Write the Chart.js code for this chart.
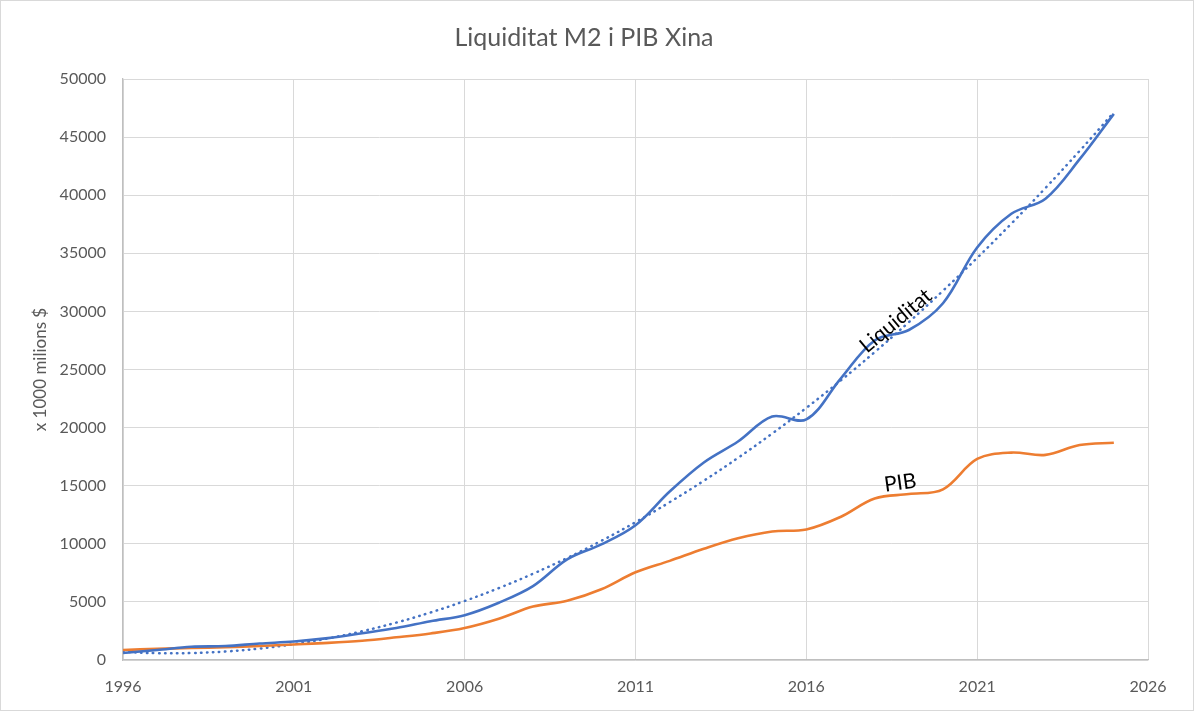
<!DOCTYPE html>
<html>
<head>
<meta charset="utf-8">
<script src="https://cdn.jsdelivr.net/npm/chart.js@4.4.1/dist/chart.umd.min.js"></script>
<style>
  html, body { margin: 0; padding: 0; background: #fff; }
  #wrap { width: 1194px; height: 711px; position: relative; }
</style>
</head>
<body>
<div id="wrap"><canvas id="m2Chart"></canvas></div>
<script>
// yearly data, x 1000 milions $
const years = [1996, 1997, 1998, 1999, 2000, 2001, 2002, 2003, 2004, 2005,
               2006, 2007, 2008, 2009, 2010, 2011, 2012, 2013, 2014, 2015,
               2016, 2017, 2018, 2019, 2020, 2021, 2022, 2023, 2024, 2025];
const liquiditat = [600, 860, 1140, 1200, 1420, 1590, 1880, 2300, 2750, 3340,
                    3860, 4930, 6360, 8660, 9950, 11600, 14500, 17000, 18800, 20950,
                    20700, 24200, 27500, 28400, 30700, 35500, 38400, 39700, 43100, 47000];
const pib = [864, 962, 1029, 1094, 1211, 1339, 1471, 1660, 1955, 2286,
             2752, 3550, 4594, 5102, 6087, 7552, 8532, 9570, 10476, 11062,
             11233, 12310, 13895, 14280, 14688, 17300, 17850, 17650, 18500, 18700];
const xTicks = [1996, 2001, 2006, 2011, 2016, 2021, 2026];
const yTicks = [0, 5000, 10000, 15000, 20000, 25000, 30000, 35000, 40000, 45000, 50000];

const blue = '#4472C4';
const orange = '#ED7D31';
const grey = '#595959';

// polynomial (order 2) trendline of liquiditat, least squares like Excel
function quadFit(xs, ys) {
    const n = xs.length;
    let s = [0, 0, 0, 0, 0], t = [0, 0, 0];
    for (let i = 0; i < n; i++) {
        const x = xs[i] - xs[0];
        for (let k = 0; k < 5; k++) s[k] += Math.pow(x, k);
        for (let k = 0; k < 3; k++) t[k] += ys[i] * Math.pow(x, k);
    }
    // solve 3x3 normal equations
    const A = [[s[0], s[1], s[2], t[0]], [s[1], s[2], s[3], t[1]], [s[2], s[3], s[4], t[2]]];
    for (let i = 0; i < 3; i++) {
        for (let j = i + 1; j < 3; j++) {
            const f = A[j][i] / A[i][i];
            for (let k = i; k < 4; k++) A[j][k] -= f * A[i][k];
        }
    }
    const c = [0, 0, 0];
    for (let i = 2; i >= 0; i--) {
        let v = A[i][3];
        for (let k = i + 1; k < 3; k++) v -= A[i][k] * c[k];
        c[i] = v / A[i][i];
    }
    return x => c[0] + c[1] * (x - xs[0]) + c[2] * Math.pow(x - xs[0], 2);
}
const trend = quadFit(years, liquiditat);

const toPoints = (xs, ys) => xs.map((x, i) => ({ x: x, y: ys[i] }));

// text labels next to the lines (data coordinates)
const lineLabels = [
    { text: 'Liquiditat', x: 2018.62, y: 29200, angle: -40 },
    { text: 'PIB', x: 2018.75, y: 15250, angle: -8 }
];

const labelPlugin = {
    id: 'lineLabels',
    afterDatasetsDraw(chart) {
        const { ctx, scales } = chart;
        ctx.save();
        ctx.font = '21px Lato, "Open Sans", sans-serif';
        ctx.fillStyle = '#000';
        ctx.textAlign = 'center';
        ctx.textBaseline = 'middle';
        lineLabels.forEach(l => {
            ctx.save();
            ctx.translate(scales.x.getPixelForValue(l.x), scales.y.getPixelForValue(l.y));
            ctx.rotate(l.angle * Math.PI / 180);
            ctx.fillText(l.text, 0, 0);
            ctx.restore();
        });
        ctx.restore();
    }
};

const framePlugin = {
    id: 'frame',
    beforeDraw(chart) {
        const { ctx, width, height } = chart;
        ctx.save();
        ctx.fillStyle = '#fff';
        ctx.fillRect(0, 0, width, height);
        ctx.strokeStyle = '#D9D9D9';
        ctx.lineWidth = 1;
        ctx.strokeRect(0.5, 0.5, width - 1, height - 1);
        ctx.restore();
    }
};

const ctx = document.getElementById('m2Chart').getContext('2d');
const m2Chart = new Chart(ctx, {
    type: 'scatter',
    data: {
        datasets: [
            { label: 'Tendència', data: toPoints(years, years.map(trend)), showLine: true,
              borderColor: blue, borderWidth: 2.5, borderDash: [0.5, 5.5], borderCapStyle: 'round',
              pointRadius: 0, tension: 0.4, order: 3 },
            { label: 'PIB', data: toPoints(years, pib), showLine: true,
              borderColor: orange, borderWidth: 2.6, pointRadius: 0, tension: 0.35, order: 2 },
            { label: 'Liquiditat', data: toPoints(years, liquiditat), showLine: true,
              borderColor: blue, borderWidth: 2.6, pointRadius: 0, tension: 0.35, order: 1 }
        ]
    },
    options: {
        responsive: true,
        maintainAspectRatio: false,
        animation: false,
        layout: { padding: { left: 20, right: 46, top: 0, bottom: 0 } },
        scales: {
            x: {
                type: 'linear',
                min: 1996,
                max: 2026,
                afterFit: s => { s.height = 51; },
                afterBuildTicks: s => { s.ticks = xTicks.map(v => ({ value: v })); },
                grid: { color: '#D9D9D9', drawTicks: false },
                border: { color: '#BFBFBF', width: 1.3 },
                ticks: { color: grey, padding: 17, font: { family: 'Lato', size: 16 },
                         maxRotation: 0, callback: v => String(v) }
            },
            y: {
                min: 0,
                max: 50000,
                afterFit: s => { s.width = 103; },
                afterBuildTicks: s => { s.ticks = yTicks.map(v => ({ value: v })); },
                grid: { color: '#D9D9D9', drawTicks: false },
                border: { color: '#BFBFBF', width: 1.3 },
                ticks: { color: grey, padding: 17, font: { family: 'Lato', size: 16 },
                         callback: v => String(v) },
                title: { display: true, text: 'x 1000 milions $', color: grey,
                         font: { family: 'Lato', size: 17 }, padding: { top: 10, bottom: 0 } }
            }
        },
        plugins: {
            legend: { display: false },
            tooltip: { enabled: false },
            title: {
                display: true,
                text: 'Liquiditat M2 i PIB Xina',
                color: grey,
                font: { family: 'Lato', size: 25, weight: 'normal' },
                padding: { top: 23, bottom: 26 }
            }
        }
    },
    plugins: [framePlugin, labelPlugin]
});
</script>
</body>
</html>
